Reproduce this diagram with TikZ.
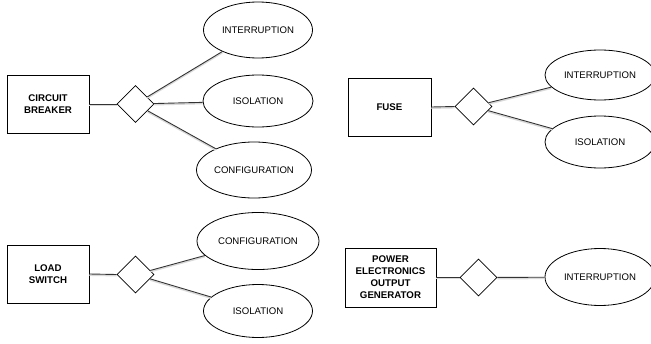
\documentclass[tikz,border=0pt]{standalone}
\usepackage{fontspec}
\setmainfont{Liberation Sans}
\usetikzlibrary{shapes.geometric}
\begin{document}
\begin{tikzpicture}[x=1pt,y=-1pt,
  every node/.style={font=\fontsize{9.6}{12}\selectfont},
  ent/.style={draw=black, line width=0.8pt, fill=white, align=center, inner sep=0pt, font=\fontsize{9.7}{12}\selectfont\bfseries},
  rel/.style={draw=black, line width=0.8pt, fill=white, diamond, inner sep=0pt, minimum width=37pt, minimum height=37pt},
  attr/.style={draw=black, line width=0.8pt, fill=white, ellipse, inner sep=0pt},
  link/.style={draw=black!80, line width=0.9pt, preaction={draw=black!15, line width=1.5pt, transform canvas={yshift=-1.2pt}}}
]
\useasboundingbox (0,0) rectangle (651,343);
% Circuit breaker
\node[ent, minimum width=82pt, minimum height=58pt] (cb) at (48,104) {CIRCUIT\\BREAKER};
\node[rel] (cbd) at (135.5,104) {};
\node[attr, minimum width=109pt, minimum height=56pt] (cbi) at (258,30) {INTERRUPTION};
\node[attr, minimum width=110pt, minimum height=52pt] (cbs) at (258,101) {ISOLATION};
\node[attr, minimum width=115pt, minimum height=56pt] (cbc) at (254,170) {CONFIGURATION};
% Fuse
\node[ent, minimum width=83pt, minimum height=58pt] (fu) at (389.5,107) {FUSE};
\node[rel] (fud) at (473.5,106.5) {};
\node[attr, minimum width=110pt, minimum height=50pt] (fui) at (600,75) {INTERRUPTION};
\node[attr, minimum width=110pt, minimum height=52pt] (fus) at (600,142) {ISOLATION};
% Load switch
\node[ent, minimum width=82pt, minimum height=58pt] (ls) at (48,274) {LOAD\\SWITCH};
\node[rel] (lsd) at (135.5,274.5) {};
\node[attr, minimum width=122pt, minimum height=57pt] (lsc) at (258,241) {CONFIGURATION};
\node[attr, minimum width=109pt, minimum height=53pt] (lss) at (258,311) {ISOLATION};
% Power electronics
\node[ent, minimum width=91pt, minimum height=59pt] (pe) at (390.5,277.5) {POWER\\ELECTRONICS\\OUTPUT\\GENERATOR};
\node[rel] (ped) at (478.5,277.5) {};
\node[attr, minimum width=110pt, minimum height=57pt] (pei) at (600,277) {INTERRUPTION};
% connectors
\draw[link] (cb.east) -- (cbd.west);
\draw[link] (cbd) -- (cbi);
\draw[link] (cbd) -- (cbs);
\draw[link] (cbd) -- (cbc);
\draw[link] (fu.east) -- (fud.west);
\draw[link] (fud) -- (fui);
\draw[link] (fud) -- (fus);
\draw[link] (ls.east) -- (lsd.west);
\draw[link] (lsd) -- (lsc);
\draw[link] (lsd) -- (lss);
\draw[link] (pe.east) -- (ped.west);
\draw[link] (ped) -- (pei);
\end{tikzpicture}
\end{document}
